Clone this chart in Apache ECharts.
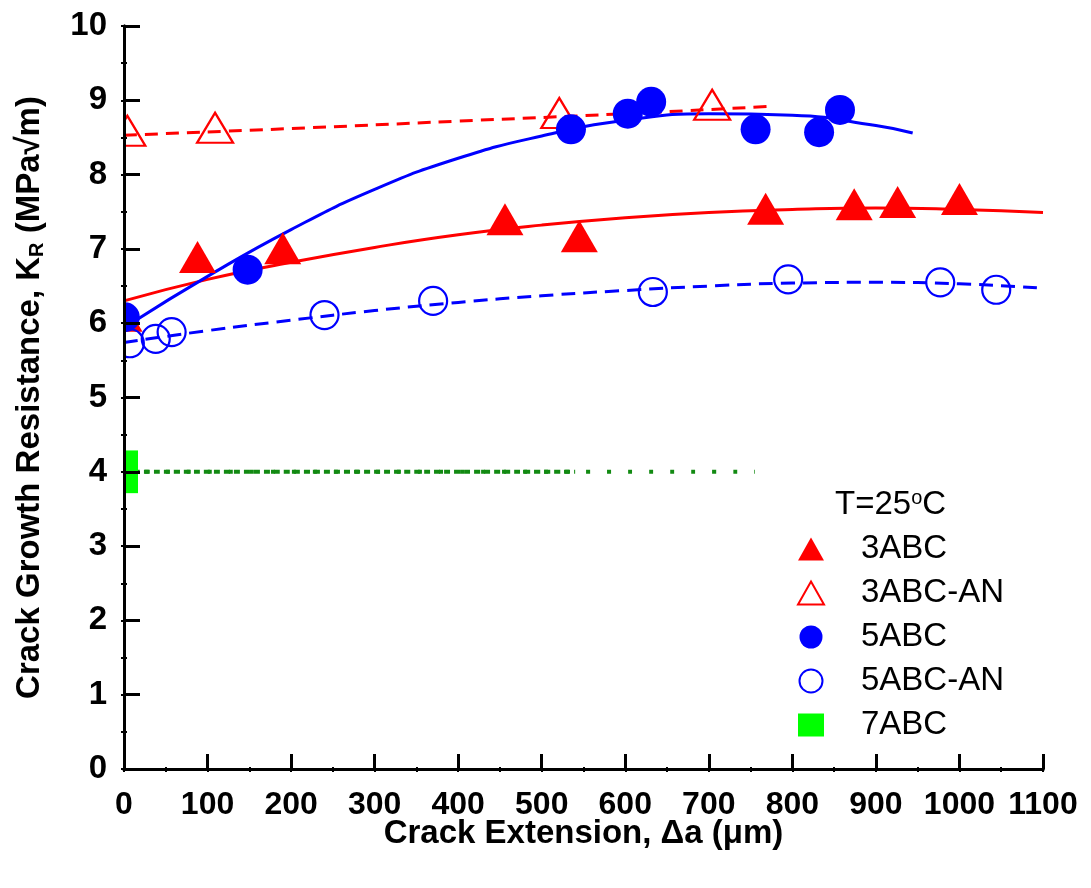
<!DOCTYPE html>
<html>
<head>
<meta charset="utf-8">
<title>Crack Growth Resistance</title>
<script src="https://cdn.jsdelivr.net/npm/echarts@6/dist/echarts.min.js"></script>
<style>
  html, body { margin: 0; padding: 0; background: #fff; }
  #main { width: 1091px; height: 888px; }
</style>
</head>
<body>
<div id="main"></div>
<script>
// measured points, [crack extension (um), K_R (MPa sqrt m)]
var abc3 = [[0, 6.10], [88, 6.89], [190, 7.01], [456, 7.40], [545, 7.17], [768, 7.54], [874, 7.60], [926, 7.63], [1000, 7.67]]
var abc3AN = [[4, 8.59], [109, 8.63], [521, 8.83], [704, 8.94]]
var abc5 = [[1, 6.08], [148, 6.72], [535, 8.61], [603, 8.82], [631, 8.98], [756, 8.61], [832, 8.57], [857, 8.87]]
var abc5AN = [[7, 5.73], [38, 5.79], [57, 5.88], [240, 6.11], [370, 6.30], [633, 6.42], [795, 6.59], [977, 6.55], [1044, 6.45]]
var abc7 = [[9, 3.80], [9, 3.90], [9, 4.00], [9, 4.10], [9, 4.20]]

// fitted curves
var fit3 = [[0, 6.30], [100, 6.59], [200, 6.82], [300, 7.02], [400, 7.19], [500, 7.32], [600, 7.42], [700, 7.49], [800, 7.53], [900, 7.55], [1000, 7.53], [1100, 7.49]]
var fit3AN = [[0, 8.53], [200, 8.62], [400, 8.72], [600, 8.82], [776, 8.92]]
var fit5 = [[10, 6.01], [100, 6.63], [200, 7.26], [300, 7.80], [400, 8.22], [500, 8.52], [600, 8.73], [700, 8.82], [800, 8.80], [900, 8.66], [944, 8.56]]
var fit5AN = [[0, 5.74], [100, 5.90], [200, 6.04], [300, 6.17], [400, 6.28], [500, 6.37], [600, 6.44], [700, 6.50], [800, 6.54], [900, 6.55], [1000, 6.53], [1100, 6.47]]
var fit7a = [[0, 4.0], [540, 4.0]]
var fit7b = [[0, 4.0], [755, 4.0]]

var legendNames = ['3ABC', '3ABC-AN', '5ABC', '5ABC-AN', '7ABC']

var RED = '#ff0000'
var BLUE = '#0000ff'
var GREEN_LINE = '#128a12'
var FONT = '"Liberation Sans", Arial, sans-serif'

var chart = echarts.init(document.getElementById('main'))

function fitLine(name, data, color, dash, width) {
  return {
    name: name,
    type: 'line',
    data: data,
    smooth: true,
    symbol: 'none',
    silent: true,
    z: 1,
    lineStyle: { color: color, width: width || 3, type: dash || 'solid' }
  }
}

function dots(name, data, symbol, size, fill, stroke) {
  return {
    name: name,
    type: 'scatter',
    data: data,
    symbol: symbol,
    symbolSize: size,
    z: 3,
    itemStyle: {
      color: fill,
      borderColor: stroke,
      borderWidth: fill === 'transparent' ? 2.2 : 0,
      opacity: 1
    }
  }
}

var option = {
  animation: false,
  backgroundColor: '#fff',
  grid: { left: 124, right: 48, top: 26, bottom: 119 },
  legend: {
    data: legendNames,
    orient: 'vertical',
    left: 792,
    top: 527,
    itemWidth: 26,
    itemHeight: 23,
    itemGap: 10,
    selectedMode: false,
    formatter: function (name) {
      return '{pad|}' + name
    },
    textStyle: {
      fontFamily: FONT,
      fontSize: 33,
      color: '#000',
      lineHeight: 34,
      rich: { pad: { width: 32 } }
    }
  },
  graphic: [
    {
      // hides the part of the symbols that spill left of the y axis
      type: 'rect',
      z: 5,
      shape: { x: 52, y: 0, width: 71, height: 780 },
      style: { fill: '#fff' }
    },
    {
      type: 'text',
      left: 835,
      top: 488,
      z: 6,
      style: {
        text: 'T=25{sup|o}C',
        font: '33px ' + FONT,
        fill: '#000',
        rich: {
          sup: { fontSize: 20, fontFamily: FONT, verticalAlign: 'top', lineHeight: 34 }
        }
      }
    }
  ],
  xAxis: [
    {
      type: 'value',
      min: 0,
      max: 1100,
      interval: 100,
      z: 10,
      name: 'Crack Extension, \u0394a (\u03bcm)',
      nameLocation: 'middle',
      nameGap: 48,
      nameMoveOverlap: false,
      nameTextStyle: { fontFamily: FONT, fontSize: 33, fontWeight: 'bold', color: '#000' },
      axisLine: { lineStyle: { color: '#000', width: 3 } },
      axisTick: { inside: true, length: 15, lineStyle: { color: '#000', width: 3 } },
      minorTick: { show: true, splitNumber: 2, length: 2, lineStyle: { color: '#000', width: 2 } },
      splitLine: { show: false },
      axisLabel: {
        margin: 20,
        fontFamily: FONT,
        fontSize: 32,
        fontWeight: 'bold',
        color: '#000',
        formatter: function (v) { return String(v) }
      }
    },
    {
      type: 'value',
      position: 'top',
      min: 0,
      max: 1100,
      interval: 50,
      z: 10,
      axisLine: { show: true, lineStyle: { color: '#000', width: 3 } },
      axisTick: { inside: true, length: 3, lineStyle: { color: '#000', width: 2 } },
      splitLine: { show: false },
      axisLabel: { show: false }
    }
  ],
  yAxis: [
    {
      type: 'value',
      min: 0,
      max: 10,
      interval: 1,
      z: 10,
      name: 'Crack Growth Resistance, K{sub|R} (MPa\u221am)',
      nameLocation: 'middle',
      nameRotate: 90,
      nameGap: 77,
      nameMoveOverlap: false,
      nameTextStyle: {
        fontFamily: FONT,
        fontSize: 33,
        fontWeight: 'bold',
        color: '#000',
        lineHeight: 34,
        rich: {
          sub: { fontFamily: FONT, fontSize: 20, fontWeight: 'bold', color: '#000', verticalAlign: 'bottom', lineHeight: 34 }
        }
      },
      axisLine: { lineStyle: { color: '#000', width: 3 } },
      axisTick: { inside: true, length: 16, lineStyle: { color: '#000', width: 3 } },
      minorTick: { show: true, splitNumber: 2, length: 3, lineStyle: { color: '#000', width: 2 } },
      splitLine: { show: false },
      axisLabel: { margin: 17, fontFamily: FONT, fontSize: 33, fontWeight: 'bold', color: '#000' }
    },
    {
      type: 'value',
      position: 'right',
      min: 0,
      max: 10,
      interval: 0.5,
      z: 10,
      axisLine: { show: true, lineStyle: { color: '#000', width: 3 } },
      axisTick: { inside: true, length: 3, lineStyle: { color: '#000', width: 2 } },
      splitLine: { show: false },
      axisLabel: { show: false }
    }
  ],
  series: [
    fitLine('fit7a', fit7a, GREEN_LINE, [6, 4], 4),
    fitLine('fit7b', fit7b, GREEN_LINE, [4, 17], 4),
    fitLine('fit3AN', fit3AN, RED, [13, 8]),
    fitLine('fit5AN', fit5AN, BLUE, [14, 8]),
    fitLine('fit3', fit3, RED),
    fitLine('fit5', fit5, BLUE),
    dots('3ABC-AN', abc3AN, 'triangle', [36, 30], 'transparent', RED),
    dots('3ABC', abc3, 'triangle', [37, 32], RED, RED),
    dots('5ABC-AN', abc5AN, 'circle', 28, 'transparent', BLUE),
    dots('5ABC', abc5, 'circle', 30, BLUE, BLUE),
    dots('7ABC', abc7, 'rect', 13, '#00ff00', '#00ff00')
  ]
}

chart.setOption(option)
</script>
</body>
</html>
